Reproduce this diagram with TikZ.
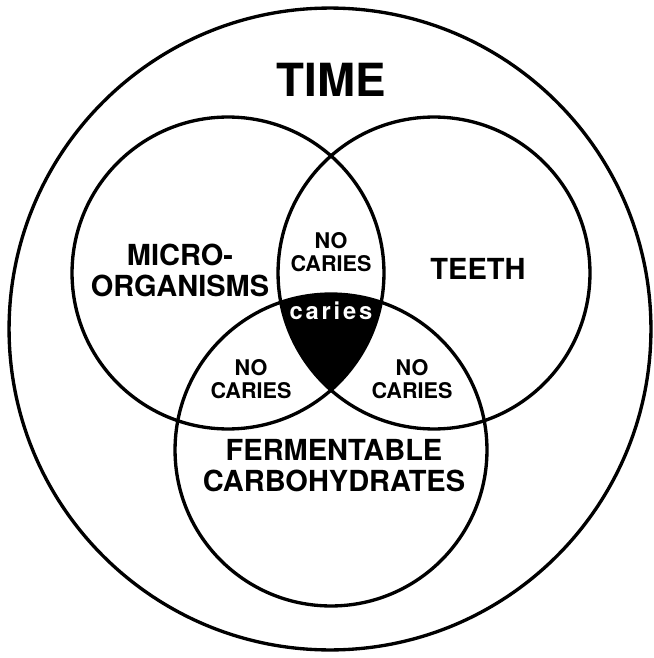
\documentclass[tikz,border=0pt]{standalone}
\usepackage{fontspec}
\setmainfont{TeX Gyre Heros}
\usepackage{tikz}
\usetikzlibrary{positioning}

\begin{document}
\begin{tikzpicture}[
    x=0.02cm, y=-0.02cm,
    ring/.style={draw=black, line width=1.9pt},
    biglabel/.style={align=center, font=\fontsize{16.5}{17.6}\selectfont\bfseries, inner sep=0pt},
    nolabel/.style={align=center, font=\fontsize{12.3}{13}\selectfont\bfseries, inner sep=0pt},
    timelabel/.style={font=\fontsize{26}{28}\selectfont\bfseries, inner sep=0pt}
]
    \useasboundingbox (0,0) rectangle (653,658);

    \coordinate (outer) at (330, 329);
    \coordinate (micro) at (228, 273);
    \coordinate (teeth) at (434, 273);
    \coordinate (ferm)  at (331, 450);

    % Caries: common part of all three
    \begin{scope}
        \clip (micro) circle[radius=3.12cm];
        \clip (teeth) circle[radius=3.12cm];
        \fill[black] (ferm) circle[radius=3.12cm];
    \end{scope}

    \draw[ring] (outer) circle[radius=6.42cm];
    \draw[ring] (micro) circle[radius=3.12cm];
    \draw[ring] (teeth) circle[radius=3.12cm];
    \draw[ring] (ferm)  circle[radius=3.12cm];

    \node[timelabel] (time) at (331, 80) {TIME};
    \node[biglabel] (microlbl) at (180, 270) {MICRO-\\ORGANISMS};
    \node[biglabel] (teethlbl) at (478, 269) {TEETH};
    \node[biglabel] (fermlbl)  at (334, 466) {FERMENTABLE\\CARBOHYDRATES};

    \node[nolabel] (nomt) at (331, 252) {NO\\CARIES};
    \node[nolabel] (nomf) at (251, 379) {NO\\CARIES};
    \node[nolabel] (notf) at (412, 379) {NO\\CARIES};

    \node[text=white, inner sep=0pt, font=\fontsize{13.5}{14}\selectfont\bfseries\addfontfeature{LetterSpace=12}] (caries) at (331, 311) {caries};
\end{tikzpicture}
\end{document}
